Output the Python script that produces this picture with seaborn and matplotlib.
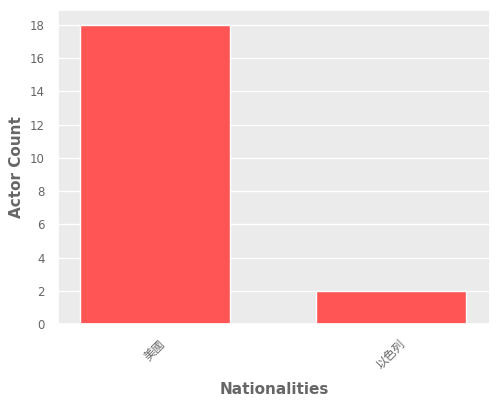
import matplotlib
matplotlib.use("Agg")
import matplotlib.pyplot as plt
import seaborn as sns
import pandas as pd

nationalities = ["美國", "以色列"]
counts = [18, 2]

sns.set_theme(style="darkgrid", rc={"axes.facecolor": "#EBEBEB", "grid.color": "white"})
plt.rcParams['font.family'] = ['DejaVu Sans', 'Noto Sans CJK TC']

df = pd.DataFrame({"Nationalities": nationalities, "Actor Count": counts})
fig, ax = plt.subplots(figsize=(5, 4), dpi=100)
sns.barplot(data=df, x="Nationalities", y="Actor Count", color="#FF5555", saturation=1, width=0.635, ax=ax)
ax.set_xlim(-0.41, 1.42)
ax.set_ylim(0, 18.9)
ax.set_yticks(range(0, 19, 2))
ax.tick_params(colors="#666666", labelsize=8.5)
plt.setp(ax.get_xticklabels(), rotation=45)
ax.set_xlabel("Nationalities", color="#666666", fontsize=11, fontweight="bold", labelpad=8)
ax.set_ylabel("Actor Count", color="#666666", fontsize=11, fontweight="bold")
fig.subplots_adjust(left=0.116, right=0.98, top=0.975, bottom=0.19)
fig.savefig("out.png")
